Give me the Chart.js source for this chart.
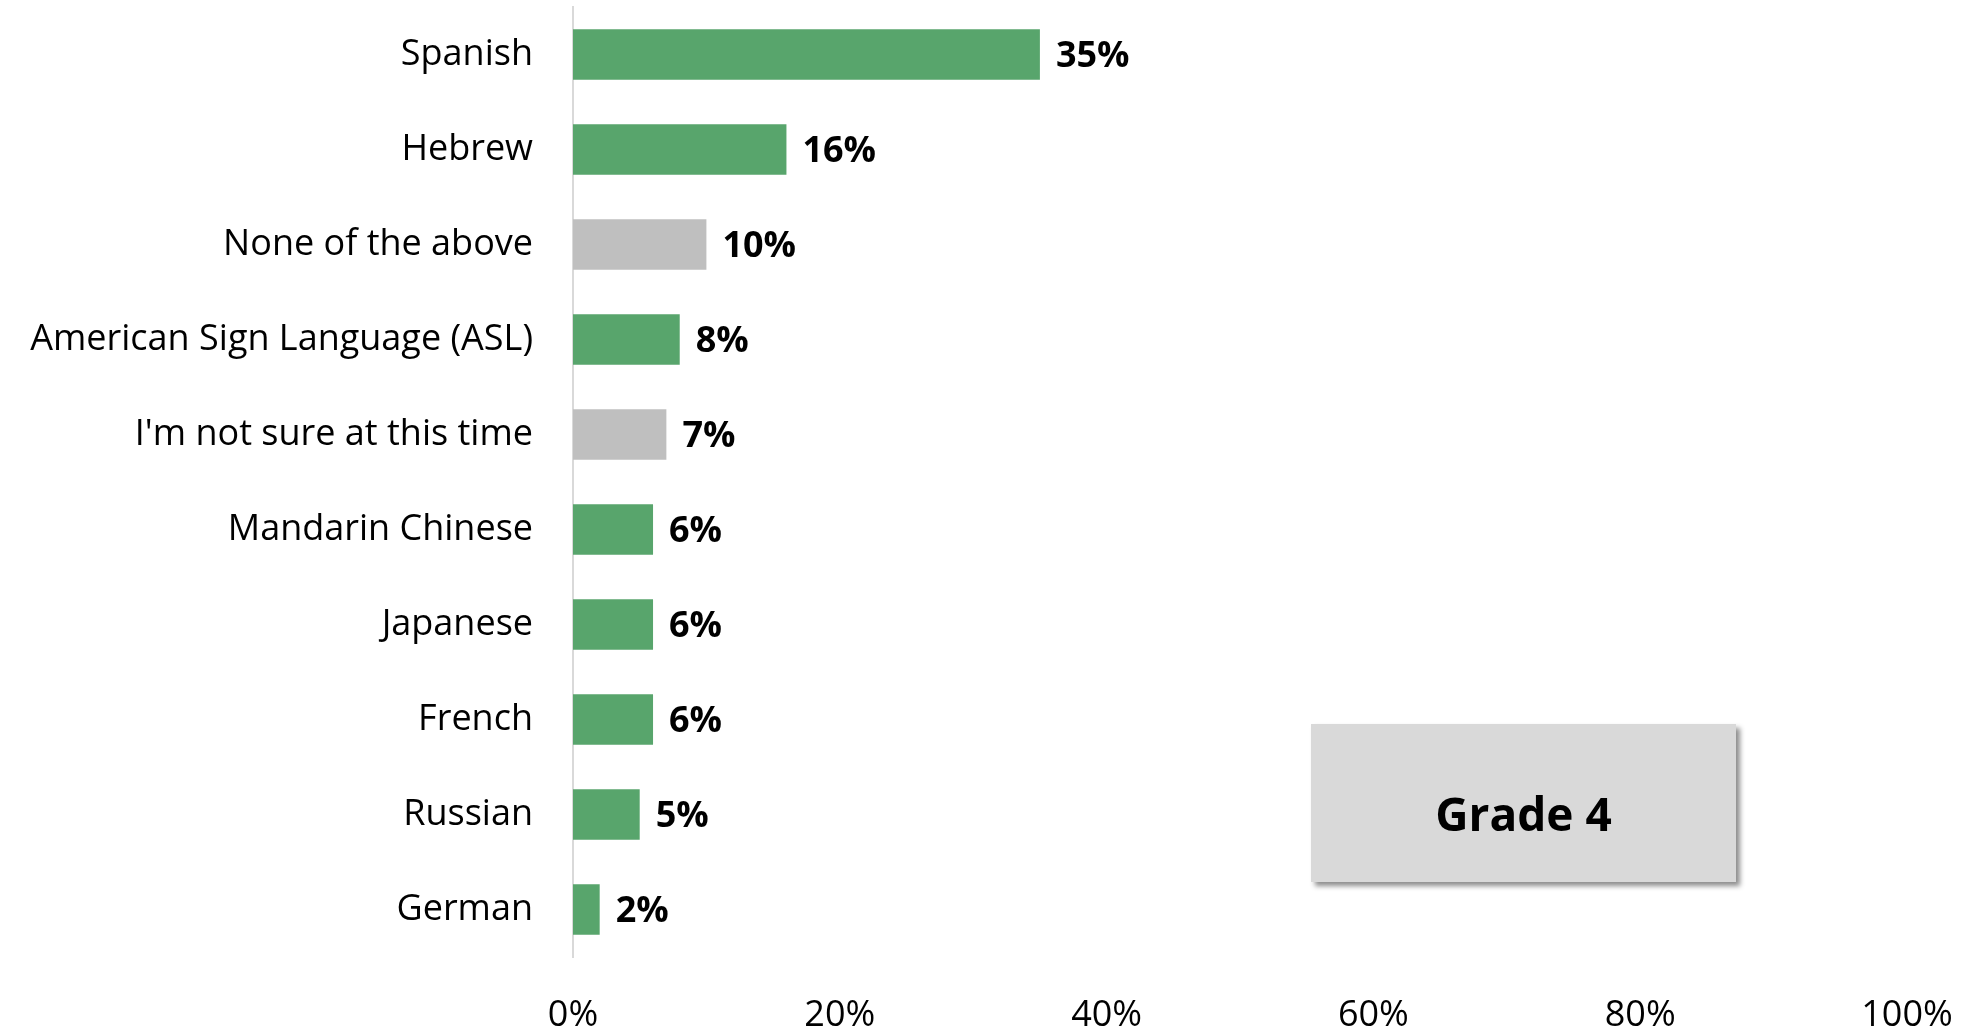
<!DOCTYPE html>
<html>
<head>
<meta charset="utf-8">
<title>Grade 4 – languages</title>
<script src="https://cdn.jsdelivr.net/npm/chart.js@4.4.1/dist/chart.umd.min.js"></script>
<style>
  html, body { margin: 0; padding: 0; background: #ffffff; }
  #wrap { position: relative; width: 1967px; height: 1027px; }
  #c { display: block; }
  #badge {
    position: absolute; left: 1311px; top: 724px; width: 425px; height: 158px;
    box-sizing: border-box; padding-top: 20px;
    background: #d9d9d9; box-shadow: 4px 4px 5px rgba(0, 0, 0, 0.45);
    display: flex; align-items: center; justify-content: center;
    font: 700 46px 'Open Sans', sans-serif; color: #000000;
  }
</style>
</head>
<body>
<div id="wrap">
  <canvas id="c" width="1967" height="1027"></canvas>
  <div id="badge">Grade 4</div>
</div>
<script>
// Languages, sorted by share of students (percent)
const categories = [
  'Spanish', 'Hebrew', 'None of the above', 'American Sign Language (ASL)',
  "I'm not sure at this time", 'Mandarin Chinese', 'Japanese', 'French',
  'Russian', 'German'
];
const shares = [35, 16, 10, 8, 7, 6, 6, 6, 5, 2];
// Non-language answers are shown in grey
const isLanguage = [true, true, false, true, false, true, true, true, true, true];
const xTickValues = [0, 20, 40, 60, 80, 100];

const GREEN = '#58a56c';
const GREY = '#bfbfbf';
const FONT = "'Open Sans', sans-serif";

const valueLabels = {
  id: 'valueLabels',
  afterDatasetsDraw(chart) {
    const ctx = chart.ctx;
    const meta = chart.getDatasetMeta(0);
    ctx.save();
    ctx.font = `700 36px ${FONT}`;
    ctx.fillStyle = '#000000';
    ctx.textAlign = 'left';
    ctx.textBaseline = 'middle';
    meta.data.forEach((bar, i) => {
      ctx.fillText(shares[i] + '%', bar.x + 16, bar.y + 2);
    });
    ctx.restore();
  }
};

function draw() {
  new Chart(document.getElementById('c'), {
    type: 'bar',
    data: {
      labels: categories,
      datasets: [{
        data: shares,
        backgroundColor: isLanguage.map(l => l ? GREEN : GREY),
        borderWidth: 0,
        categoryPercentage: 1,
        barPercentage: 0.53
      }]
    },
    options: {
      indexAxis: 'y',
      responsive: false,
      animation: false,
      events: [],
      layout: { padding: { top: 7, right: 60, bottom: 0, left: 0 } },
      plugins: { legend: { display: false }, tooltip: { enabled: false } },
      scales: {
        x: {
          min: 0, max: 100,
          afterBuildTicks(scale) { scale.ticks = xTickValues.map(v => ({ value: v })); },
          afterFit(scale) { scale.height = 70; scale.paddingLeft = 0; scale.paddingRight = 0; },
          grid: { display: false },
          border: { display: false },
          ticks: {
            padding: 29,
            color: '#000000',
            font: { family: FONT, size: 36 },
            callback: v => v + '%'
          }
        },
        y: {
          afterFit(scale) { scale.width = 573; scale.paddingTop = 0; scale.paddingBottom = 0; },
          grid: { display: false, drawTicks: false },
          border: { display: true, color: '#d9d9d9', width: 2 },
          ticks: {
            padding: 40,
            color: '#000000',
            font: { family: FONT, size: 36 }
          }
        }
      }
    },
    plugins: [valueLabels]
  });
}

if (document.fonts && document.fonts.load) {
  Promise.all([
    document.fonts.load(`36px ${FONT}`),
    document.fonts.load(`700 36px ${FONT}`)
  ]).then(draw, draw);
} else {
  draw();
}
</script>
</body>
</html>
